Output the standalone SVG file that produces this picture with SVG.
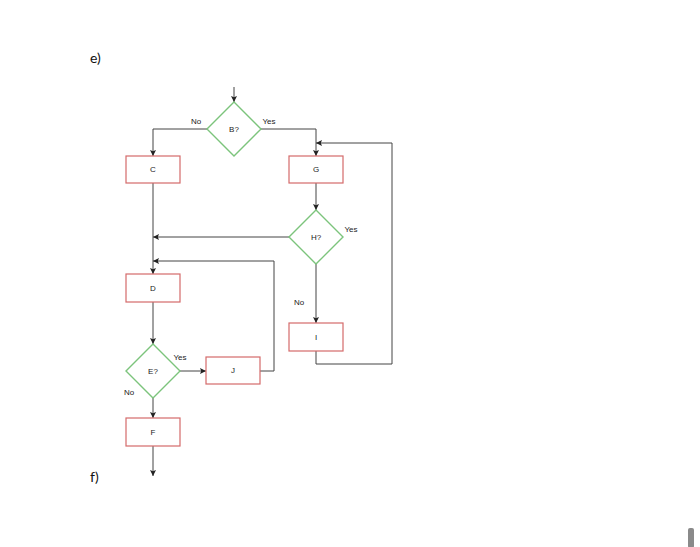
<svg xmlns="http://www.w3.org/2000/svg" width="700" height="547" viewBox="0 0 700 547">
<defs>
<marker id="ah" viewBox="0 0 10 10" refX="10" refY="5" markerWidth="6" markerHeight="6" orient="auto-start-reverse" markerUnits="userSpaceOnUse">
<path d="M0,0 L10,5 L0,10 L2,5 Z" fill="#222"/>
</marker>
</defs>
<style>
.box{fill:#fff;stroke:#d46a6a;stroke-width:1.2}
.dia{fill:#fff;stroke:#7cc47c;stroke-width:1.4}
.ln{fill:none;stroke:#444;stroke-width:1}
.t{font-family:"Liberation Sans",Arial,sans-serif;font-size:8px;fill:#222;text-anchor:middle;dominant-baseline:central}
.lb{font-family:"Liberation Sans",Arial,sans-serif;font-size:8px;fill:#222;text-anchor:middle;dominant-baseline:central}
.sec{font-family:"Lato","Liberation Sans",sans-serif;font-size:14px;fill:#111}
</style>
<rect width="700" height="547" fill="#fff"/>
<text class="sec" x="90" y="63">e)</text>
<text class="sec" x="90" y="482">f)</text>
<g id="connectors">
<path class="ln" d="M234,87 V102" marker-end="url(#ah)"/>
<path class="ln" d="M207,129 H153 V156" marker-end="url(#ah)"/>
<path class="ln" d="M261,129 H316 V156" marker-end="url(#ah)"/>
<path class="ln" d="M316,183 V210" marker-end="url(#ah)"/>
<path class="ln" d="M289,237 H153" marker-end="url(#ah)"/>
<path class="ln" d="M153,183 V274" marker-end="url(#ah)"/>
<path class="ln" d="M316,264 V323" marker-end="url(#ah)"/>
<path class="ln" d="M316,351 V364 H392 V143 H316" marker-end="url(#ah)"/>
<path class="ln" d="M153,302 V344" marker-end="url(#ah)"/>
<path class="ln" d="M180,371 H206" marker-end="url(#ah)"/>
<path class="ln" d="M260,371 H274 V261 H153" marker-end="url(#ah)"/>
<path class="ln" d="M153,398 V418" marker-end="url(#ah)"/>
<path class="ln" d="M153,446 V476" marker-end="url(#ah)"/>
</g>
<g id="nodeB"><path class="dia" d="M234,102 L261,129 L234,156 L207,129 Z"/><text class="t" x="234" y="129">B?</text></g>
<g id="nodeC"><rect class="box" x="126" y="156" width="54" height="27"/><text class="t" x="153" y="169.5">C</text></g>
<g id="nodeG"><rect class="box" x="289" y="156" width="54" height="27"/><text class="t" x="316" y="169.5">G</text></g>
<g id="nodeH"><path class="dia" d="M316,210 L343,237 L316,264 L289,237 Z"/><text class="t" x="316" y="237">H?</text></g>
<g id="nodeD"><rect class="box" x="126" y="274" width="54" height="28"/><text class="t" x="153" y="288">D</text></g>
<g id="nodeI"><rect class="box" x="289" y="323" width="54" height="28"/><text class="t" x="316" y="337">I</text></g>
<g id="nodeE"><path class="dia" d="M153,344 L180,371 L153,398 L126,371 Z"/><text class="t" x="153" y="371">E?</text></g>
<g id="nodeJ"><rect class="box" x="206" y="357" width="54" height="27"/><text class="t" x="233" y="370.5">J</text></g>
<g id="nodeF"><rect class="box" x="126" y="418" width="54" height="28"/><text class="t" x="153" y="432">F</text></g>
<g id="labels">
<text class="lb" x="196" y="121">No</text>
<text class="lb" x="269" y="121">Yes</text>
<text class="lb" x="351" y="229">Yes</text>
<text class="lb" x="299" y="302">No</text>
<text class="lb" x="180" y="357">Yes</text>
<text class="lb" x="129" y="392">No</text>
</g>
<rect x="688" y="528" width="6" height="20" rx="2" fill="#8a8a8a"/>
</svg>
